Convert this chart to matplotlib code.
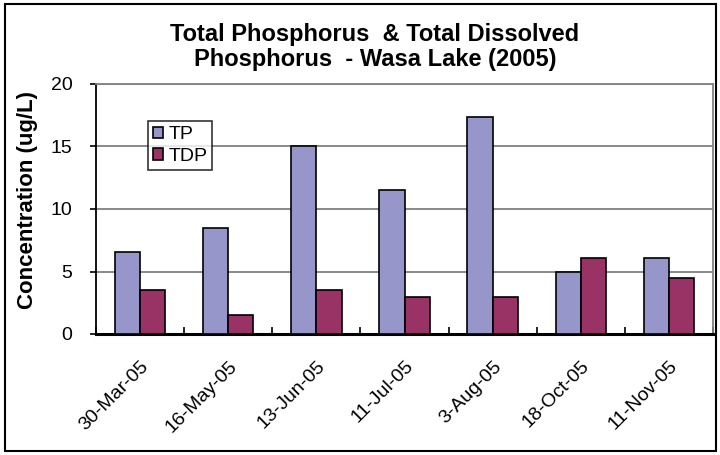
import numpy as np
import matplotlib
matplotlib.use("Agg")
import matplotlib.pyplot as plt
from matplotlib.patches import Rectangle

dates = ["30-Mar-05", "16-May-05", "13-Jun-05", "11-Jul-05", "3-Aug-05", "18-Oct-05", "11-Nov-05"]
tp = [6.6, 8.5, 15.0, 11.5, 17.4, 5.0, 6.1]
tdp = [3.5, 1.5, 3.5, 3.0, 3.0, 6.1, 4.5]

TP_C = "#9696CA"; TDP_C = "#993366"; GRID = "#808080"

plt.rcParams.update({"font.family": ["Liberation Sans", "DejaVu Sans"], "font.size": 12})

fig = plt.figure(figsize=(7.2, 4.55), dpi=100)
ax = fig.add_axes([96/720, 1-334/455, 617/720, 250/455])

x = np.arange(len(dates))
w = 1/3.5
ax.bar(x - w/2, tp, w, color=TP_C, edgecolor="black", lw=1.2, label="TP", zorder=3)
ax.bar(x + w/2, tdp, w, color=TDP_C, edgecolor="black", lw=1.2, label="TDP", zorder=3)

ax.set_xlim(-0.5, len(dates) - 0.5)
ax.set_ylim(0, 20)
ax.set_yticks([0, 5, 10, 15, 20])
ax.yaxis.grid(True, color=GRID, lw=1.3, zorder=0)
ax.set_axisbelow(True)

# category ticks between groups, labels at group centres
ax.set_xticks(np.arange(len(dates) + 1) - 0.5)
ax.set_xticklabels([])
ax.set_xticks(x, minor=True)
ax.set_xticklabels(dates, minor=True, rotation=45, ha="right", rotation_mode="anchor", fontsize=14)
ax.tick_params(axis="x", which="major", direction="in", length=5, width=1.2)
ax.tick_params(axis="x", which="minor", length=0, pad=17)
ax.tick_params(axis="y", direction="out", length=4, width=1.2, pad=13, labelsize=14)

for s in ["top", "right"]:
    ax.spines[s].set_color(GRID); ax.spines[s].set_linewidth(1.3)
ax.spines["left"].set_linewidth(1.3)
ax.spines["bottom"].set_linewidth(2.2)

ax.set_ylabel("Concentration (ug/L)", fontweight="bold", fontsize=16)
ax.yaxis.set_label_coords(-0.094, 0.536)

leg = ax.legend(loc="upper left", bbox_to_anchor=(0.084, 0.85), frameon=True, fancybox=False,
                fontsize=14, handlelength=0.55, handleheight=0.55, handletextpad=0.25,
                borderpad=0.25, labelspacing=0.25, borderaxespad=0)
leg.get_frame().set_edgecolor("black"); leg.get_frame().set_linewidth(1.2)

fig.text(375/720, 1-47/455, "Total Phosphorus  & Total Dissolved\nPhosphorus  - Wasa Lake (2005)",
         ha="center", va="center", fontsize=17, fontweight="bold", linespacing=1.1)

fig.patches.append(Rectangle((5/720, 4/455), 711/720, 447/455, transform=fig.transFigure,
                             fill=False, edgecolor="black", lw=1.5))

fig.savefig("out.png", dpi=100)
